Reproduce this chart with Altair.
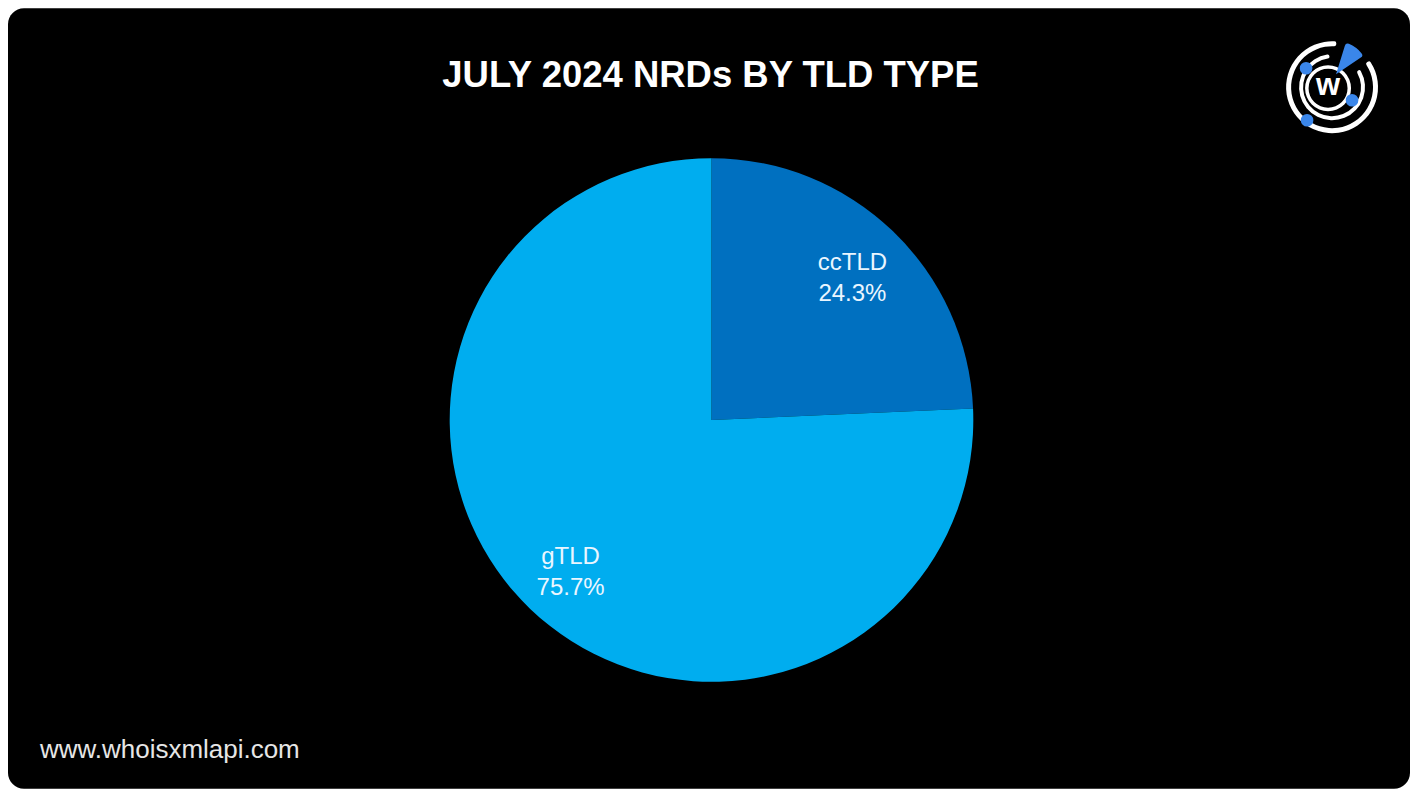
import altair as alt
import pandas as pd

# ---- data ----
categories = ["ccTLD", "gTLD"]
shares = [24.3, 75.7]
slice_colors = ["#0070C0", "#00ADEF"]
title_text = "JULY 2024 NRDs BY TLD TYPE"
footer_text = "www.whoisxmlapi.com"

# ---- layout ----
W, H = 1403, 781
CX, CY, R = 704, 412, 262
LX, LY = 1325, 79  # logo centre
LOGO_BLUE = "#3a86ea"

df = pd.DataFrame({
    "tld": categories,
    "share": shares,
    "order": list(range(len(categories))),
    "label": [f"{c}\n{s:.1f}%" for c, s in zip(categories, shares)],
})
one = pd.DataFrame({"a": [0]})

bg = alt.Chart(one).mark_rect(color="black", cornerRadius=16).encode(
    x=alt.value(0), x2=alt.value(W), y=alt.value(0), y2=alt.value(H)
)

pie = alt.Chart(df).mark_arc(radius=R, strokeWidth=0).encode(
    theta=alt.Theta("share:Q", stack=True),
    color=alt.Color("tld:N", scale=alt.Scale(domain=categories, range=slice_colors), legend=None),
    order=alt.Order("order:Q"),
    x=alt.value(CX),
    y=alt.value(CY),
)

labels = alt.Chart(df).mark_text(
    radius=204, fontSize=24, lineBreak="\n", lineHeight=31, dy=-10,
    font="Liberation Sans", color="#eaf6ff", align="center", baseline="middle",
).encode(
    theta=alt.Theta("share:Q", stack=True),
    order=alt.Order("order:Q"),
    text="label:N",
    x=alt.value(CX),
    y=alt.value(CY),
)

title = alt.Chart(one).mark_text(
    text=title_text, font="Liberation Sans", fontWeight="bold", fontSize=36.5,
    color="white", align="center", baseline="middle",
).encode(x=alt.value(703), y=alt.value(68))

footer = alt.Chart(one).mark_text(
    text=footer_text, font="Liberation Sans", fontSize=26,
    color="#e6e6e6", align="left", baseline="middle",
).encode(x=alt.value(32), y=alt.value(742))

# ---- logo (decoration) ----
outer_ring = alt.Chart(one).mark_arc(
    radius=46, radius2=41, theta=0.95, theta2=6.38, color="white", cornerRadius=2
).encode(x=alt.value(LX), y=alt.value(LY))
inner_ring = alt.Chart(one).mark_arc(
    radius=33, radius2=29, theta=1.0, theta2=6.2, color="white", cornerRadius=2
).encode(x=alt.value(LX), y=alt.value(LY))
core_ring = alt.Chart(one).mark_arc(
    radius=23, radius2=19.5, theta=0, theta2=6.2832, color="white"
).encode(x=alt.value(LX - 4), y=alt.value(LY + 1))
wedge = alt.Chart(one).mark_arc(
    radius=33, theta=0.3, theta2=0.98, color=LOGO_BLUE, cornerRadius=3
).encode(x=alt.value(LX + 4), y=alt.value(LY - 13))
dots_df = pd.DataFrame({"dx": [-26, 20, -25], "dy": [-19, 13, 33]})
dots = alt.Chart(dots_df).mark_circle(size=160, color=LOGO_BLUE, opacity=1).encode(
    x=alt.X("dx:Q", scale=alt.Scale(domain=[-LX, W - LX]), axis=None),
    y=alt.Y("dy:Q", scale=alt.Scale(domain=[-LY, H - LY], reverse=True), axis=None),
)
w_text = alt.Chart(one).mark_text(
    text="w", font="Liberation Sans", fontWeight="bold", fontSize=31,
    color="white", align="center", baseline="middle",
).encode(x=alt.value(LX - 4), y=alt.value(LY - 1))

chart = alt.layer(
    bg, pie, labels, title, footer,
    outer_ring, inner_ring, core_ring, wedge, dots, w_text,
).properties(
    width=W, height=H, padding=0, background="white",
    autosize=alt.AutoSizeParams(type="none"),
).configure_view(stroke=None)

chart.save("out.html", embed_options={"renderer": "svg", "actions": False})
